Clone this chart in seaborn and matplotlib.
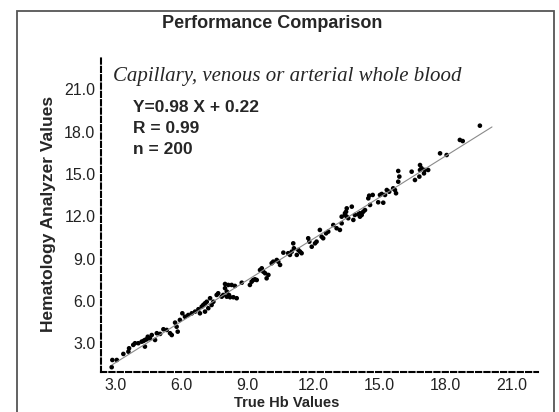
import matplotlib
matplotlib.use('Agg')
import matplotlib.pyplot as plt
import seaborn as sns
import pandas as pd
from matplotlib.patches import Rectangle


"""
values read off the reference picture
"""
true_hb = [2.84, 2.87, 3.07, 3.37, 3.60, 3.63, 3.82, 3.90, 4.05, 4.20,
           4.28, 4.35, 4.43, 4.48, 4.35, 4.58, 4.66, 4.81, 4.89, 5.04,
           5.19, 5.34, 5.49, 5.57, 5.72, 5.79, 5.84, 5.94, 6.05, 6.17,
           6.32, 6.48, 6.63, 6.78, 6.93, 7.00, 7.08, 7.16, 6.85, 7.08,
           7.23, 7.31, 7.38, 7.46, 7.61, 7.68, 7.84, 7.91, 7.99, 8.07,
           8.17,
           8.07, 8.22, 8.37, 8.52, 7.99, 8.14, 8.29, 8.44, 8.75,
           9.12, 9.20, 9.27, 9.35, 9.43, 9.58, 9.66, 9.73, 9.81, 9.88, 9.96,
           10.11, 10.18, 10.34, 10.41, 10.49, 10.64, 10.86, 10.94, 11.02,
           11.09, 11.12, 11.25, 11.32, 11.40, 11.47,
           11.77, 11.82, 11.93, 12.08, 12.15, 12.30, 12.38, 12.45, 12.58,
           12.68, 12.91, 13.06, 13.21, 13.29, 13.44, 13.49, 13.59, 13.52,
           13.29, 13.44, 13.52, 13.75, 13.82, 13.89, 14.05, 14.12, 14.20, 14.27,
           14.12, 14.35, 14.50, 14.58, 14.54, 14.70, 14.95, 15.03, 15.11, 15.18,
           15.26, 15.34, 15.45, 15.63, 15.71, 15.76, 15.86, 15.91, 15.86, 16.47,
           16.62, 16.82, 16.85, 16.85, 16.92, 17.03, 17.07, 17.22, 17.76, 18.06,
           18.66, 18.79, 19.57]

analyzer = [1.31, 1.82, 1.82, 2.25, 2.41, 2.65, 2.89, 3.01, 3.01, 3.12,
            3.17, 3.24, 3.29, 3.47, 2.77, 3.36, 3.59, 3.24, 3.72, 3.67,
            4.00, 3.95, 3.72, 3.59, 4.47, 4.18, 3.83, 4.66, 5.13, 4.89,
            5.01, 5.13, 5.25, 5.42, 5.60, 5.72, 5.84, 5.95, 5.13, 5.25,
            5.49, 6.20, 5.72, 5.95, 6.43, 6.55, 6.31, 6.43, 7.21, 6.67,
            6.43,
            6.31, 6.27, 6.27, 6.20, 6.91, 7.14, 7.14, 7.07, 7.30,
            7.14, 7.37, 7.49, 7.54, 7.49, 8.20, 8.32, 8.08, 7.97, 7.61, 7.85,
            8.68, 8.79, 8.91, 8.79, 8.56, 9.43, 9.39, 9.27, 9.50,
            10.09, 9.74, 9.27, 9.62, 9.50, 9.39,
            10.45, 10.21, 9.85, 10.09, 10.21, 11.04, 10.56, 10.45, 10.80,
            10.92, 11.39, 11.16, 11.04, 11.51, 12.10, 12.33, 11.87, 12.57,
            11.98, 12.22, 11.98, 12.69, 11.75, 12.10, 12.15, 12.22, 12.10, 12.33,
            11.98, 12.45, 13.28, 12.81, 13.47, 13.52, 13.00, 13.52, 13.59, 12.97,
            13.52, 13.87, 13.75, 13.99, 13.87, 13.64, 14.46, 14.82, 15.22, 15.17,
            14.58, 14.82, 15.29, 15.64, 15.41, 15.05, 15.29, 15.29, 16.47, 16.35,
            17.42, 17.34, 18.43]

# regression line ends
fit_x = [2.85, 20.12]
fit_y = [1.47, 18.34]

ticks = [3, 6, 9, 12, 15, 18, 21]
tick_labels = ['3.0', '6.0', '9.0', '12.0', '15.0', '18.0', '21.0']

stats_lines = ['Y=0.98 X + 0.22', 'R = 0.99', 'n = 200']

data = pd.DataFrame({'true_hb': true_hb, 'analyzer': analyzer})
fit = pd.DataFrame({'x': fit_x, 'y': fit_y})


"""
plot
"""
sns.set_style('white')
plt.rcParams['font.family'] = ['Liberation Sans', 'DejaVu Sans']

fig = plt.figure(figsize=(5.59, 4.12), dpi=100)
ax = fig.add_axes([0.1807, 0.0971, 0.7817, 0.7646])

sns.lineplot(data=fit, x='x', y='y', color='#8a8a8a', linewidth=0.8, ax=ax)
sns.scatterplot(data=data, x='true_hb', y='analyzer', color='black',
                s=11, edgecolor='none', ax=ax)

ax.set_xlim(2.355, 22.21)
ax.set_ylim(0.97, 23.30)
ax.set_xticks(ticks)
ax.set_xticklabels(tick_labels)
ax.set_yticks(ticks)
ax.set_yticklabels(tick_labels)
ax.tick_params(length=0, labelsize=11.5, colors='#222222')
ax.tick_params(axis='x', pad=4)
ax.tick_params(axis='y', pad=4)
ax.set_xlabel('')
ax.set_ylabel('')

for side in ['top', 'right']:
    ax.spines[side].set_visible(False)
for side in ['left', 'bottom']:
    ax.spines[side].set_visible(True)
    ax.spines[side].set_color('black')
    ax.spines[side].set_linewidth(1.5)
    ax.spines[side].set_linestyle((0, (2.5, 1.5)))

# texts
fig.text(0.487, 0.942, 'Performance Comparison', ha='center', va='center',
         fontsize=13, fontweight='bold')
fig.text(0.086, 0.48, 'Hematology Analyzer Values', ha='center', va='center',
         rotation=90, fontsize=12.5, fontweight='bold')
fig.text(0.512, 0.022, 'True Hb Values', ha='center', va='center',
         fontsize=10.5, fontweight='bold')
fig.text(0.202, 0.815, 'Capillary, venous or arterial whole blood',
         ha='left', va='center', fontsize=15, style='italic',
         family=['Liberation Serif', 'DejaVu Serif'])
for i, line in enumerate(stats_lines):
    fig.text(0.238, 0.74 - i * 0.052, line, ha='left', va='center',
             fontsize=12.5, fontweight='bold')

# outer frame
fig.patches.append(Rectangle((17 / 559, -0.05), (554 - 17) / 559, 1.05 - 11 / 412,
                             transform=fig.transFigure, fill=False,
                             edgecolor='#555555', linewidth=1.3))

fig.savefig('out.png', dpi=100)
